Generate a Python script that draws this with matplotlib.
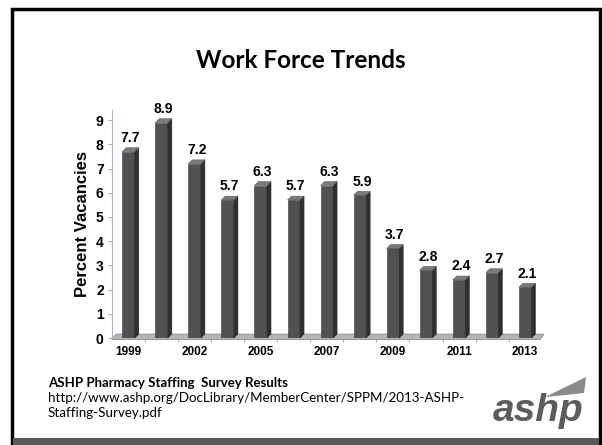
import matplotlib.pyplot as plt
from matplotlib.patches import Polygon, Rectangle

# Vacancy rates by survey year
values = [7.7, 8.9, 7.2, 5.7, 6.3, 5.7, 6.3, 5.9, 3.7, 2.8, 2.4, 2.7, 2.1]
tick_labels = ['1999', '2002', '2005', '2007', '2009', '2011', '2013']
yticks = [0, 1, 2, 3, 4, 5, 6, 7, 8, 9]

W, H = 602, 445
ARIAL = 'Liberation Sans'
fig = plt.figure(figsize=(W / 100, H / 100), dpi=100)
fig.patch.set_facecolor('white')

# slide frame and bottom band
fig.patches.append(Rectangle((12 / W, 0), 588 / W, 436 / H, transform=fig.transFigure,
                             fill=False, edgecolor='black', linewidth=2.5))
fig.patches.append(Rectangle((13 / W, 0), 586 / W, 7 / H, transform=fig.transFigure,
                             facecolor='#595959', edgecolor='none'))

fig.text(301 / W, 1 - 61 / H, 'Work Force Trends', ha='center', va='center',
         fontsize=17.5, fontweight='bold', family='Lato')

ax = fig.add_axes([112 / W, 1 - 338 / H, 433 / W, 227.5 / H])
ax.set_xlim(-0.5, 12.6)
ax.set_ylim(0, 9.4)

bw = 0.38
dx, dy = 0.12, 0.16
xs = list(range(len(values)))

# floor slab
floor = Polygon([(-0.5, -0.06), (12.45, -0.06), (12.45 + dx, dy), (-0.5 + dx, dy)],
                closed=True, facecolor='#b5b5b5', edgecolor='#8a8a8a', linewidth=0.6,
                clip_on=False, zorder=1)
ax.add_patch(floor)

ax.bar(xs, values, width=bw, color='#515151', edgecolor='#3a3a3a', linewidth=0.4, zorder=3)
for x, v in zip(xs, values):
    r = x + bw / 2
    l = x - bw / 2
    side = Polygon([(r, 0), (r + dx, dy), (r + dx, v + dy), (r, v)],
                   closed=True, facecolor='#2f2f2f', edgecolor='#2a2a2a', linewidth=0.4, zorder=3)
    top = Polygon([(l, v), (l + dx, v + dy), (r + dx, v + dy), (r, v)],
                  closed=True, facecolor='#7a7a7a', edgecolor='#5a5a5a', linewidth=0.4, zorder=4)
    ax.add_patch(side)
    ax.add_patch(top)
    ax.annotate(f'{v:.1f}', (x + dx / 2, v + dy), xytext=(0, 2), textcoords='offset points',
                ha='center', va='bottom', fontsize=10, fontweight='bold', family=ARIAL)

for s in ['top', 'right', 'bottom']:
    ax.spines[s].set_visible(False)
ax.spines['left'].set_color('#9db6d8')
ax.spines['left'].set_linewidth(0.8)

ax.set_yticks(yticks)
ax.set_yticklabels([str(t) for t in yticks], fontsize=10, fontweight='bold', family=ARIAL)
ax.tick_params(axis='y', colors='#9db6d8', labelcolor='black', length=3, width=0.8, pad=3)

ax.set_xticks(xs[::2])
ax.set_xticklabels(tick_labels, fontsize=8.5, fontweight='bold', family=ARIAL)
ax.set_xticks([x + 0.5 for x in xs[:-1]], minor=True)
ax.tick_params(axis='x', which='major', length=0, pad=6)
ax.tick_params(axis='x', which='minor', length=3, color='#9a9a9a', width=0.6)

ax.set_ylabel('Percent Vacancies', fontsize=12, fontweight='bold', family=ARIAL, labelpad=4)

# source note
fig.text(48 / W, 1 - 383 / H, 'ASHP Pharmacy Staffing  Survey Results', ha='left', va='center',
         fontsize=9.5, fontweight='bold', family='Lato')
fig.text(48 / W, 1 - 398 / H, 'http://www.ashp.org/DocLibrary/MemberCenter/SPPM/2013-ASHP-',
         ha='left', va='center', fontsize=9.6, family='Lato')
fig.text(48 / W, 1 - 413 / H, 'Staffing-Survey.pdf', ha='left', va='center',
         fontsize=9.6, family='Lato')

# logo
fig.text(538 / W, 1 - 411 / H, 'ashp', ha='center', va='center', fontsize=28,
         fontweight='bold', style='italic', color='#5c5c5c', family=ARIAL)
fig.patches.append(Polygon([(545 / W, 1 - 397 / H), (586 / W, 1 - 377 / H),
                            (584 / W, 1 - 393 / H), (566 / W, 1 - 395 / H)],
                           closed=True, transform=fig.transFigure,
                           facecolor='#8a8a8a', edgecolor='none'))

fig.savefig('out.png', dpi=100)
